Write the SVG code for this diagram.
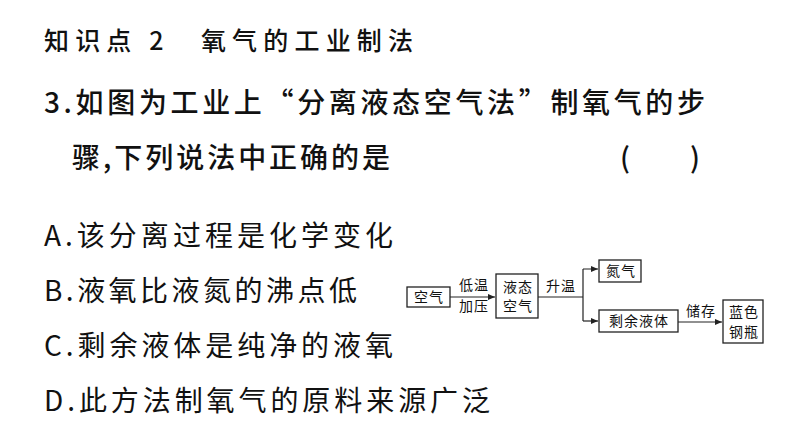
<svg xmlns="http://www.w3.org/2000/svg" width="794" height="447" viewBox="0 0 794 447">
<style>
.t{font-family:"Noto Sans CJK SC","Liberation Sans",sans-serif;fill:#111}
.big{font-size:28px}
.s{font-size:14px;font-family:"Noto Sans CJK SC",serif;fill:#111;letter-spacing:1px}
.b{fill:#fff;stroke:#222;stroke-width:1.3}
.c{stroke:#222;stroke-width:1.2;fill:none}
</style>
<defs><marker id="a" markerWidth="8" markerHeight="8" refX="7" refY="4" orient="auto" markerUnits="userSpaceOnUse"><path d="M0,1L7,4L0,7Z" fill="#222"/></marker></defs>
<rect width="794" height="447" fill="#fff"/>
<text class="t" x="44" y="50" font-size="25" font-weight="500" textLength="369" lengthAdjust="spacing">知识点 2　氧气的工业制法</text>
<text class="t big" x="44" y="113" font-weight="500" textLength="661" lengthAdjust="spacing">3.如图为工业上“分离液态空气法”制氧气的步</text>
<text class="t big" x="72" y="168" font-weight="500" textLength="318" lengthAdjust="spacing">骤,下列说法中正确的是</text>
<text class="t big" x="620" y="168" font-weight="500">(</text>
<text class="t big" x="690" y="168" font-weight="500">)</text>
<text class="t big" x="44" y="246" textLength="349" lengthAdjust="spacing">A.该分离过程是化学变化</text>
<text class="t big" x="44" y="301" textLength="313" lengthAdjust="spacing">B.液氧比液氮的沸点低</text>
<text class="t big" x="44" y="356" textLength="349" lengthAdjust="spacing">C.剩余液体是纯净的液氧</text>
<text class="t big" x="44" y="411" textLength="446" lengthAdjust="spacing">D.此方法制氧气的原料来源广泛</text>
<g id="kq"><rect class="b" x="407" y="287" width="43" height="20"/><text class="s" x="429" y="302" text-anchor="middle">空气</text></g>
<g id="yt"><rect class="b" x="496" y="274" width="42" height="44"/><text class="s" x="518" y="292" text-anchor="middle">液态</text><text class="s" x="518" y="311" text-anchor="middle">空气</text></g>
<g id="dq"><rect class="b" x="599" y="260" width="42" height="22"/><text class="s" x="621" y="276" text-anchor="middle">氮气</text></g>
<g id="sy"><rect class="b" x="599" y="310" width="79" height="22"/><text class="s" x="639" y="326" text-anchor="middle" letter-spacing="4">剩余液体</text></g>
<g id="lg"><rect class="b" x="723" y="300" width="40" height="43"/><text class="s" x="744" y="317" text-anchor="middle" font-size="13">蓝色</text><text class="s" x="744" y="337" text-anchor="middle" font-size="13">钢瓶</text></g>
<g id="conn">
<path class="c" d="M450,297H495" marker-end="url(#a)"/>
<path class="c" d="M538,297H583M583,269V321M583,269H598" marker-end="url(#a)"/>
<path class="c" d="M583,321H598" marker-end="url(#a)"/>
<path class="c" d="M678,322H722" marker-end="url(#a)"/>
<text class="s" x="474" y="290" text-anchor="middle">低温</text>
<text class="s" x="474" y="311" text-anchor="middle">加压</text>
<text class="s" x="561" y="291" text-anchor="middle">升温</text>
<text class="s" x="701" y="316" text-anchor="middle">储存</text>
</g>
</svg>
